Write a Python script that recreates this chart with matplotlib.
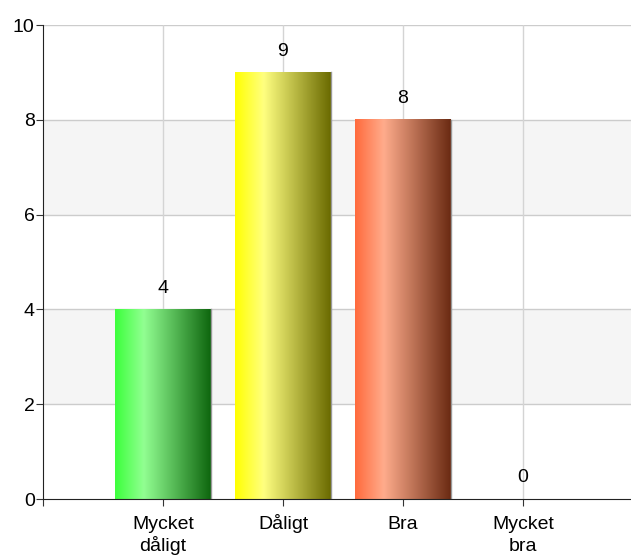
import numpy as np
import matplotlib.pyplot as plt
from matplotlib.colors import LinearSegmentedColormap

categories = ["Mycket\ndåligt", "Dåligt", "Bra", "Mycket\nbra"]
values = [4, 9, 8, 0]
# left edge, highlight, right edge of each bar's gradient
bar_colors = [
    ["#3cff3c", "#92ff92", "#0e660e"],
    ["#ffff00", "#ffff80", "#6a6a00"],
    ["#ff6a3c", "#ffac8c", "#6a2a12"],
    ["#cccccc", "#eeeeee", "#888888"],
]

plt.rcParams['font.family'] = ['Liberation Sans', 'DejaVu Sans']

fig = plt.figure(figsize=(6.31, 5.56), dpi=100)
ax = fig.add_axes([43 / 631, 57 / 556, 600 / 631, 474 / 556])

x = np.arange(len(categories))
width = 0.8

# alternating bands
for lo in (2, 6):
    ax.axhspan(lo, lo + 2, color="#f5f5f5", zorder=0, lw=0)
for yv in (2, 4, 6, 8, 10):
    ax.axhline(yv, color="#cccccc", lw=1, zorder=1)
for xv in x:
    ax.axvline(xv, color="#d4d4d4", lw=1, zorder=1)

grad = np.linspace(0, 1, 256).reshape(1, -1)
for xi, v, cols in zip(x, values, bar_colors):
    if v <= 0:
        continue
    cmap = LinearSegmentedColormap.from_list("g", [(0, cols[0]), (0.3, cols[1]), (1, cols[2])])
    ax.imshow(grad, cmap=cmap, aspect="auto", extent=[xi - width / 2, xi + width / 2, 0, v],
              zorder=2, interpolation="bilinear")
    ax.plot([xi + width / 2 + 0.004, xi + width / 2 + 0.004], [0, v], color="#999999", lw=1, zorder=2)

for xi, v in zip(x, values):
    ax.text(xi, v + 0.27, str(v), ha="center", va="bottom", fontsize=14, zorder=3)

# category labels, one line at a time so every first line shares a baseline
for xi, lab in zip(x, categories):
    for k, line in enumerate(lab.split("\n")):
        ax.annotate(line, xy=(xi, 0), xycoords=("data", "axes fraction"),
                    xytext=(0, -30 - 22 * k), textcoords="offset pixels",
                    ha="center", va="baseline", fontsize=14,
                    annotation_clip=False)

ax.set_xlim(-1, 4)
ax.set_ylim(0, 10)
ax.set_xticks([-1] + list(x))
ax.set_xticklabels([])
ax.set_yticks([0, 2, 4, 6, 8, 10])
ax.set_yticklabels(["0", "2", "4", "6", "8", "10"], fontsize=14)
ax.tick_params(axis="x", length=5, color="#333333")
ax.tick_params(axis="y", length=5, pad=1, color="#333333")

for s in ("top", "right"):
    ax.spines[s].set_visible(False)
ax.spines["left"].set_color("#222222")
ax.spines["bottom"].set_color("#222222")
ax.spines["left"].set_zorder(4)
ax.spines["bottom"].set_zorder(4)

fig.savefig("out.png", dpi=100)
